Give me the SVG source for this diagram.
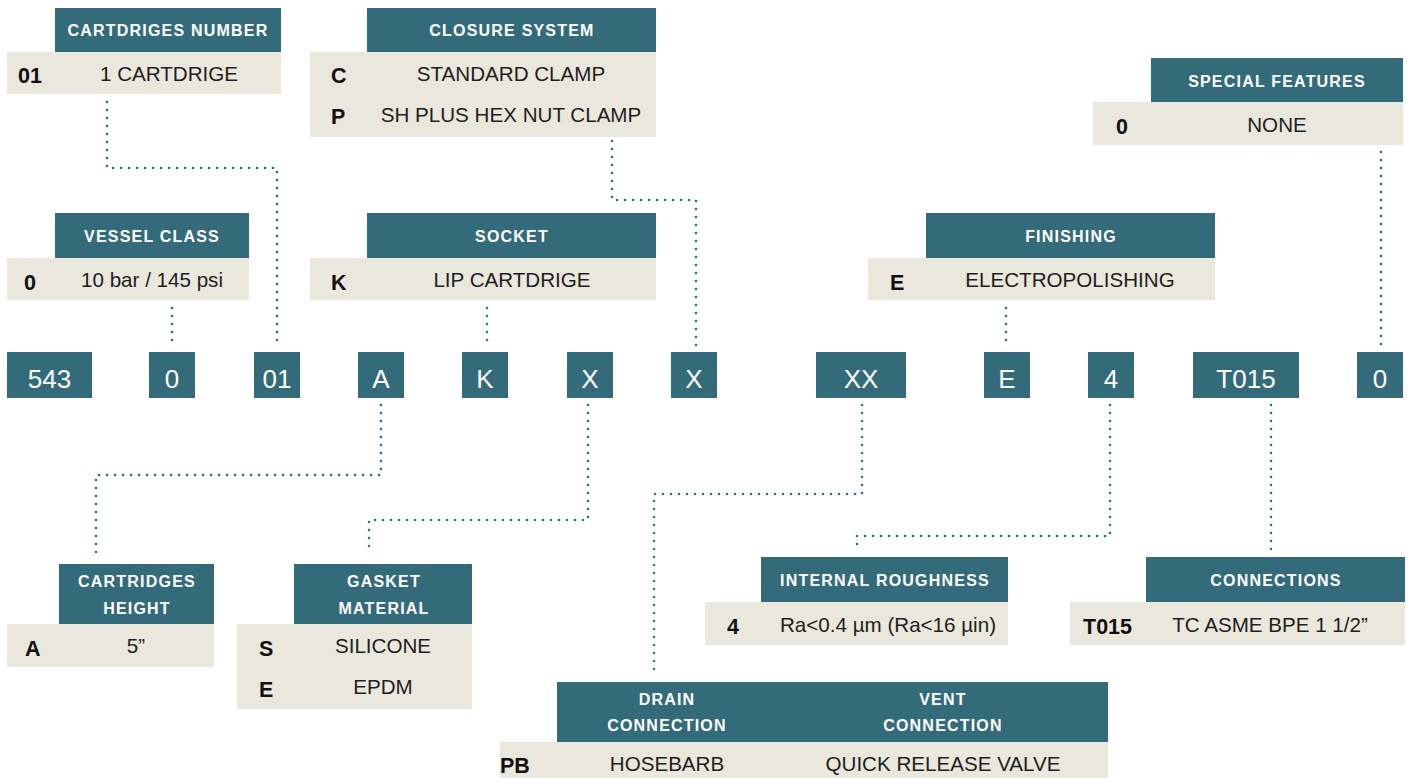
<svg xmlns="http://www.w3.org/2000/svg" width="1409" height="778" viewBox="0 0 1409 778">
<style>
.hd{fill:#346b7b}
.bg{fill:#eae7dd}
.ht{font-family:"Liberation Sans",Arial,sans-serif;font-weight:bold;font-size:16px;letter-spacing:1.2px;fill:#ffffff;text-anchor:middle}
.bt{font-family:"Liberation Sans",Arial,sans-serif;font-size:20.6px;fill:#1e1e1e;text-anchor:middle}
.cd{font-family:"Liberation Sans",Arial,sans-serif;font-weight:bold;font-size:21.5px;fill:#111111}
.bx{fill:#346b7b}
.bxt{font-family:"Liberation Sans",Arial,sans-serif;font-size:26px;fill:#ffffff;text-anchor:middle}
.ln{fill:none;stroke:#346b7b;stroke-width:2.6;stroke-linecap:round;stroke-dasharray:0 8}
</style>
<rect width="1409" height="778" fill="#ffffff"/>

<g id="connectors">
<polyline class="ln" points="107,102 107,168 277,168 277,346"/>
<polyline class="ln" points="612,141 612,200 696,200 696,346"/>
<polyline class="ln" points="172,308 172,346"/>
<polyline class="ln" points="487,308 487,346"/>
<polyline class="ln" points="1006,308 1006,346"/>
<polyline class="ln" points="1381,152 1381,346"/>
<polyline class="ln" points="381,405 381,475 96,475 96,559"/>
<polyline class="ln" points="588,405 588,520 369,520 369,554"/>
<polyline class="ln" points="862,405 862,494 654,494 654,676"/>
<polyline class="ln" points="1110,405 1110,536 857,536 857,551"/>
<polyline class="ln" points="1271,405 1271,551"/>
</g>

<g id="cartridges-number">
<rect class="bg" x="7" y="52" width="274" height="42"/>
<rect class="hd" x="55" y="8" width="226" height="44"/>
<text class="ht" x="168" y="36">CARTDRIGES NUMBER</text>
<text class="cd" x="18" y="83">01</text>
<text class="bt" x="169" y="81">1 CARTDRIGE</text>
</g>

<g id="closure-system">
<rect class="bg" x="310" y="52" width="346" height="85"/>
<rect class="hd" x="367" y="8" width="289" height="44"/>
<text class="ht" x="512" y="36">CLOSURE SYSTEM</text>
<text class="cd" x="331" y="83">C</text>
<text class="bt" x="511" y="81">STANDARD CLAMP</text>
<text class="cd" x="331" y="124">P</text>
<text class="bt" x="511" y="122">SH PLUS HEX NUT CLAMP</text>
</g>

<g id="special-features">
<rect class="bg" x="1093" y="102" width="310" height="43"/>
<rect class="hd" x="1151" y="58" width="252" height="44"/>
<text class="ht" x="1277" y="87">SPECIAL FEATURES</text>
<text class="cd" x="1116" y="134">0</text>
<text class="bt" x="1277" y="132">NONE</text>
</g>

<g id="vessel-class">
<rect class="bg" x="7" y="258" width="242" height="42"/>
<rect class="hd" x="55" y="213" width="194" height="45"/>
<text class="ht" x="152" y="242">VESSEL CLASS</text>
<text class="cd" x="24" y="290">0</text>
<text class="bt" x="152" y="287">10 bar / 145 psi</text>
</g>

<g id="socket">
<rect class="bg" x="310" y="258" width="346" height="42"/>
<rect class="hd" x="367" y="213" width="289" height="45"/>
<text class="ht" x="512" y="242">SOCKET</text>
<text class="cd" x="331" y="290">K</text>
<text class="bt" x="512" y="287">LIP CARTDRIGE</text>
</g>

<g id="finishing">
<rect class="bg" x="868" y="258" width="347" height="42"/>
<rect class="hd" x="926" y="213" width="289" height="45"/>
<text class="ht" x="1071" y="242">FINISHING</text>
<text class="cd" x="890" y="290">E</text>
<text class="bt" x="1070" y="287">ELECTROPOLISHING</text>
</g>

<g id="code-543"><rect class="bx" x="7" y="352" width="85" height="46"/><text class="bxt" x="49.5" y="388">543</text></g>
<g id="code-0"><rect class="bx" x="149" y="352" width="46" height="46"/><text class="bxt" x="172" y="388">0</text></g>
<g id="code-01"><rect class="bx" x="254" y="352" width="46" height="46"/><text class="bxt" x="277" y="388">01</text></g>
<g id="code-A"><rect class="bx" x="358" y="352" width="46" height="46"/><text class="bxt" x="381" y="388">A</text></g>
<g id="code-K"><rect class="bx" x="462" y="352" width="46" height="46"/><text class="bxt" x="485" y="388">K</text></g>
<g id="code-X1"><rect class="bx" x="567" y="352" width="46" height="46"/><text class="bxt" x="590" y="388">X</text></g>
<g id="code-X2"><rect class="bx" x="671" y="352" width="46" height="46"/><text class="bxt" x="694" y="388">X</text></g>
<g id="code-XX"><rect class="bx" x="816" y="352" width="90" height="46"/><text class="bxt" x="861" y="388">XX</text></g>
<g id="code-E"><rect class="bx" x="984" y="352" width="46" height="46"/><text class="bxt" x="1007" y="388">E</text></g>
<g id="code-4"><rect class="bx" x="1088" y="352" width="46" height="46"/><text class="bxt" x="1111" y="388">4</text></g>
<g id="code-T015"><rect class="bx" x="1193" y="352" width="106" height="46"/><text class="bxt" x="1246" y="388">T015</text></g>
<g id="code-0b"><rect class="bx" x="1357" y="352" width="46" height="46"/><text class="bxt" x="1380" y="388">0</text></g>

<g id="cartridges-height">
<rect class="bg" x="7" y="624" width="207" height="43"/>
<rect class="hd" x="59" y="564" width="155" height="60"/>
<text class="ht" x="137" y="587">CARTRIDGES</text>
<text class="ht" x="137" y="614">HEIGHT</text>
<text class="cd" x="25" y="656">A</text>
<text class="bt" x="136" y="653">5”</text>
</g>

<g id="gasket-material">
<rect class="bg" x="237" y="624" width="235" height="85"/>
<rect class="hd" x="294" y="564" width="178" height="60"/>
<text class="ht" x="384" y="587">GASKET</text>
<text class="ht" x="384" y="614">MATERIAL</text>
<text class="cd" x="259" y="656">S</text>
<text class="bt" x="383" y="653">SILICONE</text>
<text class="cd" x="259" y="697">E</text>
<text class="bt" x="383" y="694">EPDM</text>
</g>

<g id="internal-roughness">
<rect class="bg" x="705" y="602" width="303" height="43"/>
<rect class="hd" x="761" y="557" width="247" height="45"/>
<text class="ht" x="885" y="586">INTERNAL ROUGHNESS</text>
<text class="cd" x="727" y="634">4</text>
<text class="bt" x="888" y="632">Ra&lt;0.4 µm (Ra&lt;16 µin)</text>
</g>

<g id="connections">
<rect class="bg" x="1070" y="602" width="335" height="43"/>
<rect class="hd" x="1146" y="557" width="259" height="45"/>
<text class="ht" x="1276" y="586">CONNECTIONS</text>
<text class="cd" x="1083" y="634">T015</text>
<text class="bt" x="1270" y="632">TC ASME BPE 1 1/2”</text>
</g>

<g id="drain-vent">
<rect class="bg" x="500" y="742" width="608" height="36"/>
<rect class="hd" x="557" y="682" width="551" height="60"/>
<text class="ht" x="667" y="705">DRAIN</text>
<text class="ht" x="667" y="731">CONNECTION</text>
<text class="ht" x="943" y="705">VENT</text>
<text class="ht" x="943" y="731">CONNECTION</text>
<text class="cd" x="500" y="773">PB</text>
<text class="bt" x="667" y="771">HOSEBARB</text>
<text class="bt" x="943" y="771">QUICK RELEASE VALVE</text>
</g>
</svg>
